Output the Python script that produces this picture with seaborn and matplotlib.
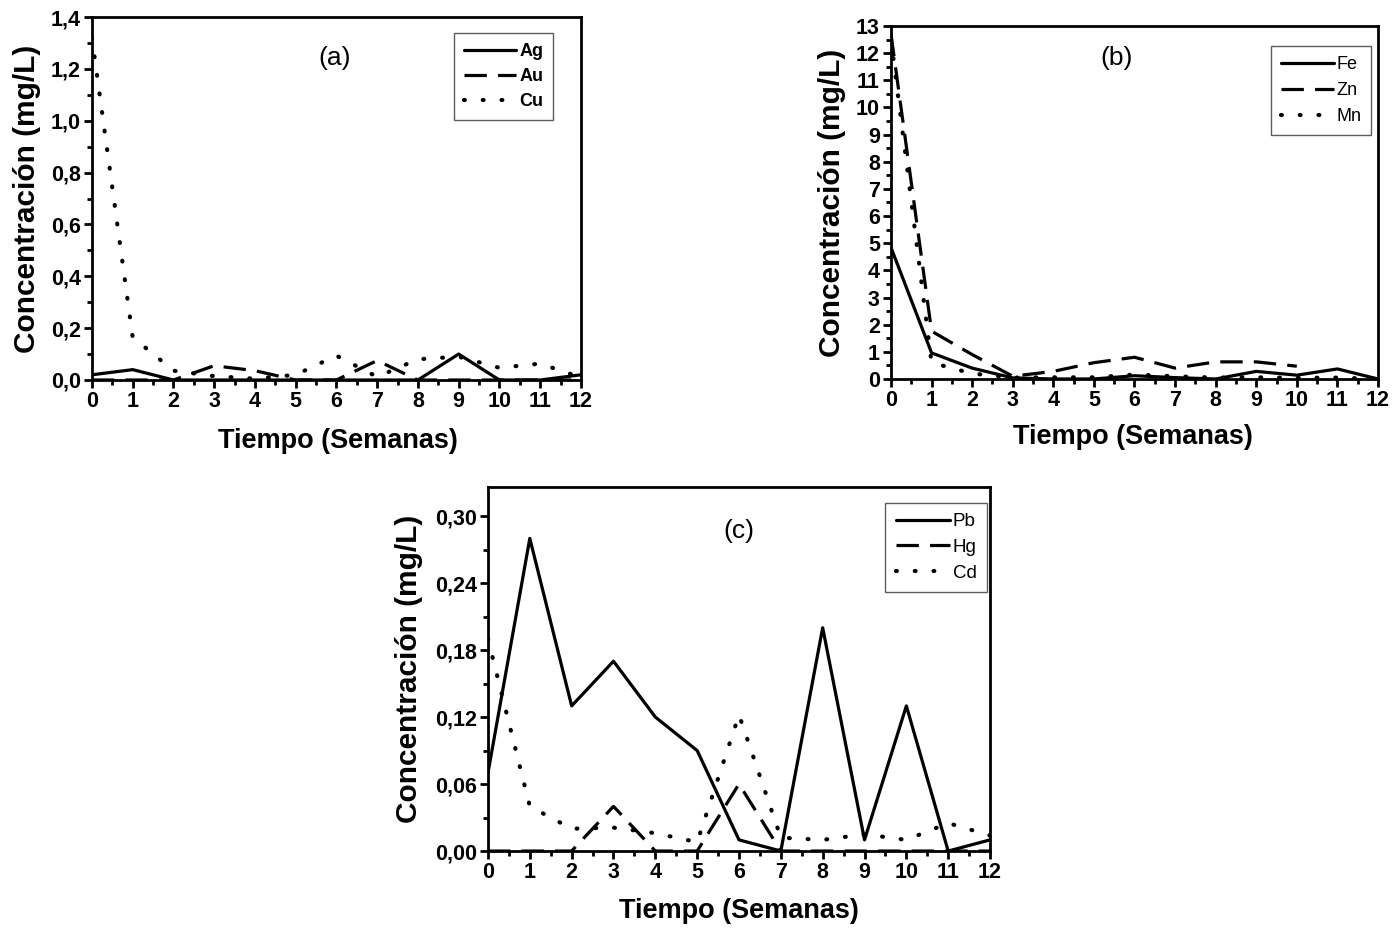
import numpy as np
import pandas as pd
import seaborn as sns
import matplotlib
matplotlib.use("Agg")
import matplotlib.pyplot as plt
from matplotlib.ticker import MultipleLocator, FuncFormatter

# ---- data: concentration (mg/L) per week ----
semanas = list(range(13))

ag = [0.02, 0.04, 0.0, 0.0, 0.0, 0.0, 0.0, 0.0, 0.0, 0.10, 0.0, 0.0, 0.02]
au = [0.0, 0.0, 0.0, 0.055, 0.036, 0.0, 0.0, 0.075, 0.0, 0.0, 0.0, 0.0, 0.0]
cu = [1.32, 0.165, 0.036, 0.015, 0.005, 0.02, 0.094, 0.012, 0.08, 0.09, 0.047, 0.063, 0.01]

fe = [4.84, 0.96, 0.40, 0.04, 0.0, 0.0, 0.12, 0.05, 0.0, 0.28, 0.14, 0.37, 0.0]
zn = [12.7, 1.76, 0.9, 0.1, 0.28, 0.6, 0.8, 0.4, 0.63, 0.63, 0.47, np.nan, np.nan]
mn = [12.5, 0.6, 0.2, 0.05, 0.06, 0.06, 0.16, 0.1, 0.05, 0.06, 0.04, 0.05, 0.0]

pb = [0.07, 0.28, 0.13, 0.17, 0.12, 0.09, 0.01, 0.0, 0.20, 0.01, 0.13, 0.0, 0.01]
hg = [0.0, 0.0, 0.0, 0.04, 0.0, 0.0, 0.06, 0.0, 0.0, 0.0, 0.0, 0.0, 0.0]
cd = [0.19, 0.04, 0.02, 0.021, 0.016, 0.008, 0.122, 0.012, 0.01, 0.015, 0.01, 0.025, 0.014]

etiqueta_x = "Tiempo (Semanas)"
etiqueta_y = "Concentración (mg/L)"

sns.set_theme(style="ticks")
plt.rcParams["font.family"] = ["Liberation Sans", "DejaVu Sans"]
plt.rcParams.update({
    "text.color": "black",
    "axes.labelcolor": "black",
    "xtick.color": "black",
    "ytick.color": "black",
    "axes.edgecolor": "black",
})

LW = 2.3
estilos = {
    "solid": ("-", LW),
    "dash": ((0, (7, 3.5)), LW),
    "dot": ((0, (0.2, 4.3)), 3.0),
}


def coma(fmt):
    return FuncFormatter(lambda v, p: fmt.format(v).replace(".", ","))


def panel(ax, series, ylim, ymajor, yminor, yfmt, letra, letra_x, letra_y,
          leg_anchor, leg_bold, leg_size, leg_spacing):
    for nombre, valores, est in series:
        df = pd.DataFrame({"Semana": semanas, "Conc": valores}).dropna()
        ls, lw = estilos[est]
        line_kw = dict(color="black", linewidth=lw, linestyle=ls,
                       label=nombre, errorbar=None, estimator=None)
        if est == "dot":
            line_kw["dash_capstyle"] = "round"
        sns.lineplot(data=df, x="Semana", y="Conc", ax=ax, **line_kw)

    ax.set_xlim(0, 12)
    ax.set_ylim(*ylim)
    ax.xaxis.set_major_locator(MultipleLocator(1))
    ax.xaxis.set_minor_locator(MultipleLocator(0.5))
    ax.yaxis.set_major_locator(MultipleLocator(ymajor))
    ax.yaxis.set_minor_locator(MultipleLocator(yminor))
    ax.yaxis.set_major_formatter(coma(yfmt))

    for s in ax.spines.values():
        s.set_visible(True)
        s.set_linewidth(2.0)
        s.set_color("black")
    ax.tick_params(which="major", direction="out", length=6, width=2.0,
                   labelsize=15.5, pad=2, top=False, right=False)
    ax.tick_params(which="minor", direction="out", length=3.5, width=2.0,
                   top=False, right=False)
    for t in ax.get_xticklabels() + ax.get_yticklabels():
        t.set_fontweight("bold")

    ax.set_xlabel(etiqueta_x, fontsize=19.5, fontweight="bold")
    ax.set_ylabel(etiqueta_y, fontsize=21.5, fontweight="bold")

    ax.text(letra_x, letra_y, letra, transform=ax.transAxes, fontsize=19,
            ha="center", va="center")

    leg = ax.legend(loc="upper right", bbox_to_anchor=leg_anchor,
                    borderaxespad=0, frameon=True, fancybox=False,
                    handlelength=2.9, handletextpad=0.15,
                    labelspacing=leg_spacing, borderpad=0.55,
                    prop={"size": leg_size,
                          "weight": "bold" if leg_bold else "normal"})
    leg.get_frame().set_edgecolor("#333333")
    leg.get_frame().set_linewidth(1.0)
    for h, (_, _, est) in zip(leg.get_lines(), series):
        h.set_linewidth(estilos[est][1])
    return ax


fig = plt.figure(figsize=(13.95, 9.3), dpi=100)
ax_a = fig.add_axes([0.0659, 0.5914, 0.3505, 0.3903])
ax_b = fig.add_axes([0.6387, 0.5925, 0.3491, 0.3796])
ax_c = fig.add_axes([0.3498, 0.0849, 0.3599, 0.3914])

panel(ax_a, [("Ag", ag, "solid"), ("Au", au, "dash"), ("Cu", cu, "dot")],
      (0, 1.4), 0.2, 0.1, "{:.1f}", "(a)", 0.497, 0.887,
      (0.943, 0.956), True, 13, 0.45)
panel(ax_b, [("Fe", fe, "solid"), ("Zn", zn, "dash"), ("Mn", mn, "dot")],
      (0, 13), 1, 0.5, "{:.0f}", "(b)", 0.464, 0.909,
      (0.986, 0.943), False, 13, 0.5)
panel(ax_c, [("Pb", pb, "solid"), ("Hg", hg, "dash"), ("Cd", cd, "dot")],
      (0, 0.326), 0.06, 0.03, "{:.2f}", "(c)", 0.5, 0.879,
      (0.994, 0.956), False, 13.5, 0.45)

ax_a.yaxis.set_label_coords(-0.104, 0.5)
ax_a.xaxis.set_label_coords(0.503, -0.132)
ax_b.yaxis.set_label_coords(-0.092, 0.5)
ax_b.xaxis.set_label_coords(0.497, -0.127)
ax_c.yaxis.set_label_coords(-0.129, 0.5)
ax_c.xaxis.set_label_coords(0.5, -0.129)

fig.savefig("out.png", dpi=100, facecolor="white")
